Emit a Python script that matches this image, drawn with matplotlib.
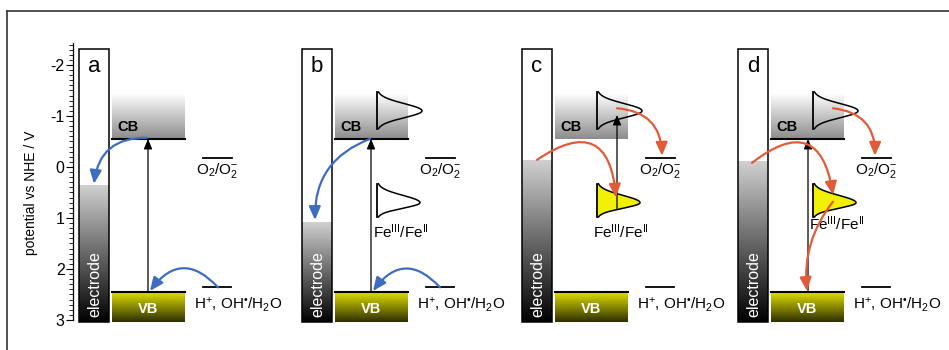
import numpy as np
import matplotlib
matplotlib.use("Agg")
import matplotlib.pyplot as plt
from matplotlib.patches import Rectangle, FancyArrowPatch
from matplotlib.colors import LinearSegmentedColormap
from matplotlib.lines import Line2D
from matplotlib.ticker import MultipleLocator

plt.rcParams["font.family"] = ["Liberation Sans", "DejaVu Sans"]
plt.rcParams["mathtext.fontset"] = "custom"
plt.rcParams["mathtext.rm"] = "Liberation Sans"
plt.rcParams["mathtext.it"] = "Liberation Sans"
plt.rcParams["mathtext.bf"] = "Liberation Sans:bold"

# =====================================================
# data (potential vs NHE / V)
# =====================================================
panels = ["a", "b", "c", "d"]
electrode_fermi = [0.37, 1.08, -0.12, -0.10]
cb_edge = -0.55
cb_top = -1.45
vb_edge = 2.45
vb_bottom = 3.04
o2_level = -0.18
h_level = 2.36
cb_dos = (-1.47, -1.10, -0.75)   # top, peak, bottom
fe_dos = (0.33, 0.70, 0.98)
show_cb_dos = [False, True, True, True]
show_fe_dos = [False, True, True, True]
fe_filled = [False, False, True, True]
cb_line = [True, True, False, True]
yticks = [-2, -1, 0, 1, 2, 3]
ytick_labels = ["-2", "-1", "0", "1", "2", "3"]

# layout (x in pixels)
panel_x = [79, 302, 522, 738]
blue = "#3d6cc0"
red = "#e35a38"

fig = plt.figure(figsize=(9.49, 3.5), dpi=100)
ax = fig.add_axes([73 / 949, 1 - 320 / 350, 876 / 949, (320 - 43) / 350])
ax.set_xlim(73, 949)
ax.set_ylim(3.0, -2.43)

for s in ["top", "right", "bottom"]:
    ax.spines[s].set_visible(False)
ax.spines["left"].set_linewidth(0.9)
ax.set_xticks([])
ax.set_yticks(yticks)
ax.set_yticklabels(ytick_labels, fontsize=11.5)
ax.yaxis.set_minor_locator(MultipleLocator(0.1))
ax.tick_params(axis="y", which="major", length=5, width=0.8, pad=1)
ax.tick_params(axis="y", which="minor", length=3, width=0.6)
ax.set_ylabel("potential vs NHE / V", fontsize=10)
ax.yaxis.set_label_coords(-0.04, 0.46)

electrode_cmap = LinearSegmentedColormap.from_list("el", ["#d0d0d0", "#000000"])
cb_cmap = LinearSegmentedColormap.from_list("cb", ["#ffffff", "#8c8c8c"])
vb_cmap = LinearSegmentedColormap.from_list("vb", ["#e6e600", "#2e2e00"])
grad = np.linspace(0, 1, 256).reshape(-1, 1)


def gradient(x0, x1, ytop, ybot, cmap):
    ax.imshow(grad, extent=[x0, x1, ybot, ytop], origin="upper",
              aspect="auto", cmap=cmap, zorder=1, clip_on=False)


def dos(xl, top, peak, bot, width, filled):
    yy = np.linspace(top, bot, 200)
    s = np.where(yy < peak, (peak - top) / 2.6, (bot - peak) / 2.6)
    xx = xl + width * np.exp(-0.5 * ((yy - peak) / s) ** 2)
    if filled:
        ax.fill_betweenx(yy, xl, xx, color="#f0f000", zorder=3, lw=0)
    ax.plot(xx, yy, color="black", lw=1.1, zorder=4, clip_on=False)
    ax.plot([xl, xl], [top, bot], color="black", lw=1.3, zorder=4)


def arrow(p0, p1, rad, color, lw=1.6, hl=8, hw=3.5):
    a = FancyArrowPatch(p0, p1, connectionstyle=f"arc3,rad={rad}",
                        arrowstyle=f"-|>,head_length={hl},head_width={hw}",
                        color=color, lw=lw, zorder=6, clip_on=False,
                        shrinkA=0, shrinkB=0)
    ax.add_patch(a)


for i, (name, x0) in enumerate(zip(panels, panel_x)):
    ex0, ex1 = x0, x0 + 30
    cx0, cx1 = x0 + 33, x0 + 106
    # electrode
    gradient(ex0, ex1, electrode_fermi[i], vb_bottom, electrode_cmap)
    ax.add_patch(Rectangle((ex0, -2.31), ex1 - ex0, vb_bottom + 2.31, fill=False,
                           ec="black", lw=1.1, zorder=2, clip_on=False))
    ax.text((ex0 + ex1) / 2, -1.96, name, fontsize=16, ha="center", va="center")
    ax.text((ex0 + ex1) / 2 + 1, 2.95, "electrode", color="white", fontsize=11.5,
            rotation=90, ha="center", va="bottom", zorder=5)

    # CB / VB
    gradient(cx0, cx1, cb_top, cb_edge, cb_cmap)
    if cb_line[i]:
        ax.plot([cx0, cx1], [cb_edge, cb_edge], color="black", lw=1.5, zorder=3)
    ax.text(cx0 + 5, -0.79, "CB", fontsize=10.5, fontweight="bold", va="center")
    gradient(cx0, cx1, vb_edge, vb_bottom, vb_cmap)
    ax.plot([cx0, cx1], [vb_edge, vb_edge], color="black", lw=1.5, zorder=3)
    ax.text((cx0 + cx1) / 2, 2.78, "VB", fontsize=10.5, fontweight="bold",
            color="white", ha="center", va="center", zorder=5)

    # redox levels
    ax.plot([x0 + 124, x0 + 153], [o2_level, o2_level], color="black", lw=1.3)
    ax.text(x0 + 138, 0.07, r"O$_2$/O$_2^{-}$", fontsize=11, ha="center", va="center")
    ax.plot([x0 + 124, x0 + 152], [h_level, h_level], color="black", lw=1.3)
    ax.text(x0 + 115, 2.7, "H$^{+}$, OH$^{\u2022}$/H$_2$O", fontsize=11,
            ha="left", va="center")

    if show_cb_dos[i]:
        dos(x0 + 75, *cb_dos, 45, False)
    if show_fe_dos[i]:
        dos(x0 + 75, *fe_dos, 43, fe_filled[i])
        fe_y = 1.12 if name == "d" else 1.27
        ax.text(x0 + 71, fe_y, r"Fe$^{\rm III}$/Fe$^{\rm II}$", fontsize=11,
                ha="left", va="center", zorder=5)

# excitation arrows
for name, x, y0, y1 in [("a", 148, vb_edge, cb_edge), ("b", 371, vb_edge, cb_edge),
                        ("c", 617, 0.82, -1.02), ("d", 808, vb_edge, cb_edge)]:
    arrow((x, y0), (x, y1), 0, "black", lw=0.9, hl=6, hw=2.5)

# charge transfer arrows (panel a, b: blue; c, d: red)
arrow((147, -0.57), (94, 0.33), 0.45, blue)
arrow((218, h_level), (150, 2.43), 0.6, blue)
arrow((370, -0.55), (315, 1.04), 0.35, blue)
arrow((440, h_level), (373, 2.43), 0.6, blue)
arrow((537, -0.14), (616, 0.6), -0.85, red)
arrow((617, -1.15), (662, -0.22), -0.45, red)
arrow((752, -0.08), (833, 0.55), -0.85, red)
arrow((833, 0.68), (807, 2.43), 0.2, red)
arrow((833, -1.15), (875, -0.22), -0.45, red)

# outer frame
fig.add_artist(Line2D([7 / 949, 1], [1 - 11 / 350, 1 - 11 / 350], color="#333333", lw=1.2))
fig.add_artist(Line2D([7 / 949, 7 / 949], [0, 1 - 11 / 350], color="#333333", lw=1.2))

fig.savefig("out.png", dpi=100)
